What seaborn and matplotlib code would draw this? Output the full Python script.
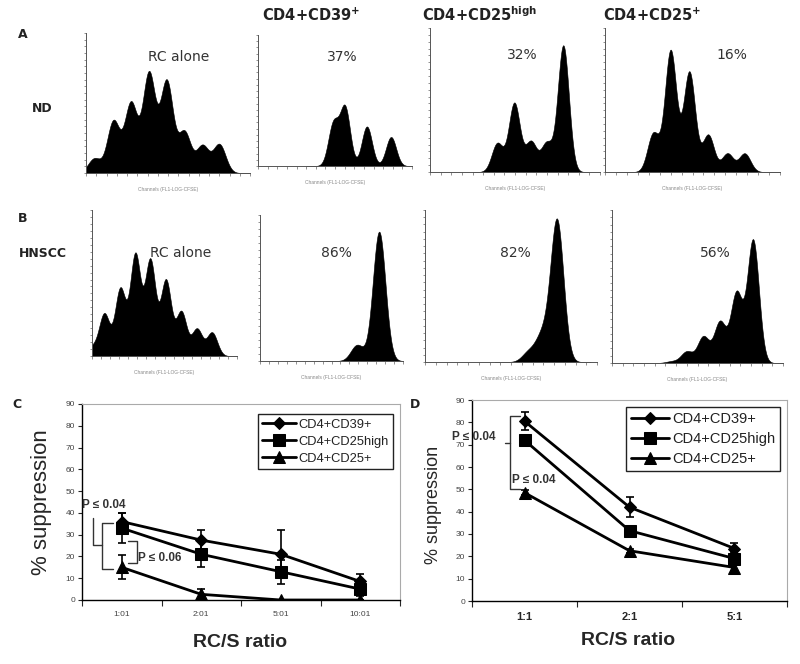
import numpy as np
import matplotlib
matplotlib.use("Agg")
import matplotlib.pyplot as plt
import seaborn as sns

# ---- CFSE histograms: peak channel (0-100 across the panel) and peak height (fraction of panel) ----
nd_rc_pos = [5.1, 16.7, 27.4, 38.4, 49.2, 60.0, 71.0, 81.3]
nd_rc_h = [0.107, 0.38, 0.51, 0.73, 0.67, 0.30, 0.20, 0.21]
nd_cd39_pos = [48.9, 56.5, 70.7, 86.4]
nd_cd39_h = [0.34, 0.47, 0.32, 0.235]
nd_cd25high_pos = [39.6, 49.6, 59.4, 68.6, 78.4]
nd_cd25high_h = [0.2, 0.48, 0.21, 0.2, 0.88]
nd_cd25_pos = [27.6, 37.5, 48.2, 59.0, 70.0, 79.8]
nd_cd25_h = [0.27, 0.85, 0.70, 0.26, 0.13, 0.13]

hn_rc_pos = [0.0, 8.5, 19.5, 29.9, 40.2, 51.0, 61.6, 72.4, 82.8]
hn_rc_h = [0.06, 0.295, 0.47, 0.71, 0.67, 0.53, 0.31, 0.19, 0.165]
hn_cd39_pos = [67.9, 83.3]
hn_cd39_h = [0.11, 0.886]
hn_cd25high_pos = [60.2, 68.0, 76.7]
hn_cd25high_h = [0.066, 0.17, 0.945]
hn_cd25_pos = [35.0, 43.7, 53.4, 63.1, 72.8, 82.5]
hn_cd25_h = [0.012, 0.076, 0.174, 0.27, 0.46, 0.81]

col_titles = [r"CD4+CD39$^{\mathbf{+}}$", r"CD4+CD25$^{\mathbf{high}}$", r"CD4+CD25$^{\mathbf{+}}$"]
nd_labels = ["RC alone", "37%", "32%", "16%"]
hn_labels = ["RC alone", "86%", "82%", "56%"]

# ---- suppression curves ----
group_names = ["CD4+CD39+", "CD4+CD25high", "CD4+CD25+"]

ratios_c = ["1:01", "2:01", "5:01", "10:01"]
c_cd39 = [36, 27.5, 21, 8.5]
c_cd39_err = [4, 4.7, 11, 3.5]
c_cd25high = [33, 21, 13, 5]
c_cd25high_err = [7, 6, 5.5, 3]
c_cd25 = [15, 2.6, 0, 0]
c_cd25_err = [5.5, 2.5, 0, 0]

ratios_d = ["1:1", "2:1", "5:1"]
d_cd39 = [80.5, 42, 23.5]
d_cd39_err = [4, 4.5, 2.5]
d_cd25high = [72, 31.5, 19]
d_cd25high_err = [1, 2, 3]
d_cd25 = [48.5, 22.5, 15]
d_cd25_err = [1, 1, 1.5]

W, H = 800, 664

sns.set_style("ticks")
plt.rcParams["font.family"] = ["Liberation Sans", "DejaVu Sans"]


def px_rect(x0, x1, y0, y1):
    return [x0 / W, 1 - y1 / H, (x1 - x0) / W, (y1 - y0) / H]


def fig_text(fig, px, py, s, **kw):
    fig.text(px / W, 1 - py / H, s, **kw)


def flow_hist(ax, pos, heights, sigma):
    pos = np.asarray(pos, float)
    h = np.asarray(heights, float)
    # kernel width in channel units -> seaborn/scipy bandwidth factor
    factor = float(sigma / np.sqrt(np.cov(pos, aweights=h)))
    sns.kdeplot(x=pos, weights=h, bw_method=factor, fill=True, color="black",
                alpha=1, linewidth=0.4, clip=(0, 100), cut=5, gridsize=600, ax=ax)
    peak = max(p.vertices[:, 1].max() for p in ax.collections[-1].get_paths())
    top = peak / h.max()
    ax.set_xlim(0, 100)
    ax.set_ylim(0, top)
    ax.set_yticks(np.linspace(0, top, 22))
    ax.set_xticks(np.linspace(0, 100, 17))
    ax.set_yticklabels([])
    ax.set_xticklabels([])
    ax.set_ylabel("")
    ax.set_xlabel("Channels (FL1-LOG-CFSE)", fontsize=3.5, color="#888", labelpad=5)
    sns.despine(ax=ax)
    for s in ["left", "bottom"]:
        ax.spines[s].set_color("#555")
        ax.spines[s].set_linewidth(0.7)
    ax.tick_params(length=1.8, width=0.5, color="#666")


def suppression_chart(ax, ratios, series, legend_fs, legend_anchor):
    for name, vals, err, marker, ms in series:
        sns.lineplot(x=ratios, y=vals, ax=ax, color="black", lw=2, marker=marker,
                     markersize=ms, markeredgecolor="black", label=name, sort=False)
        ax.errorbar(ratios, vals, yerr=err, fmt="none", ecolor="black",
                    elinewidth=1.2, capsize=3, capthick=1.2)
    n = len(ratios)
    ax.set_xlim(-0.5, n - 0.5)
    ax.set_ylim(0, 90)
    ax.set_yticks(range(0, 91, 10))
    ax.set_xticks(np.arange(-0.5, n), minor=True)
    ax.tick_params(axis="x", which="major", length=0, pad=8)
    ax.tick_params(axis="x", which="minor", length=4, width=0.8, direction="out")
    ax.tick_params(axis="y", length=3, width=0.8, pad=2, labelsize=6, labelcolor="#444")
    for s in ["left", "bottom"]:
        ax.spines[s].set_color("black")
        ax.spines[s].set_linewidth(1)
    for s in ["top", "right"]:
        ax.spines[s].set_color("#aaa")
        ax.spines[s].set_linewidth(0.8)
    leg = ax.legend(loc="upper right", bbox_to_anchor=legend_anchor, borderaxespad=0,
                    fancybox=False, edgecolor="#222", framealpha=1, fontsize=legend_fs,
                    handlelength=2.6, handletextpad=0.2, borderpad=0.35, labelspacing=0.4)
    leg.get_frame().set_linewidth(1)
    for t in leg.get_texts():
        t.set_color("#222")
    ax.set_xlabel("RC/S ratio", fontsize=14, fontweight="bold")


fig = plt.figure(figsize=(W / 100, H / 100), dpi=100)

# ---- panels A and B ----
nd_boxes = [(86, 250, 33, 173), (258, 412, 35, 166), (430, 600, 28, 172), (605, 780, 28, 172)]
hn_boxes = [(92, 237, 210, 356), (260, 403, 215, 361), (425, 597, 210, 362), (612, 783, 210, 363)]
nd_data = [(nd_rc_pos, nd_rc_h, 3.8), (nd_cd39_pos, nd_cd39_h, 3.3),
           (nd_cd25high_pos, nd_cd25high_h, 3.3), (nd_cd25_pos, nd_cd25_h, 3.3)]
hn_data = [(hn_rc_pos, hn_rc_h, 3.6), (hn_cd39_pos, hn_cd39_h, 4.4),
           (hn_cd25high_pos, hn_cd25high_h, 3.8), (hn_cd25_pos, hn_cd25_h, 3.4)]

for box, (pos, h, sig) in zip(nd_boxes, nd_data):
    flow_hist(fig.add_axes(px_rect(*box)), pos, h, sig)
for box, (pos, h, sig) in zip(hn_boxes, hn_data):
    flow_hist(fig.add_axes(px_rect(*box)), pos, h, sig)

top_kw = dict(family="DejaVu Sans", color="#222", ha="center", va="center")
for x, t in zip([311, 480, 652], col_titles):
    fig_text(fig, x, 15, t, fontsize=10.5, fontweight="bold", **top_kw)
for (x, y), t in zip([(179, 57), (342, 57), (522, 55), (732, 55)], nd_labels):
    fig_text(fig, x, y, t, fontsize=10, color="#333", ha="center", va="center", family="DejaVu Sans")
for (x, y), t in zip([(181, 253), (336, 253), (515, 253), (715, 253)], hn_labels):
    fig_text(fig, x, y, t, fontsize=10, color="#333", ha="center", va="center", family="DejaVu Sans")

lab_kw = dict(family="DejaVu Sans", fontweight="bold", color="#222", va="center", ha="left")
fig_text(fig, 18, 34, "A", fontsize=9, **lab_kw)
fig_text(fig, 32, 108, "ND", fontsize=9, **lab_kw)
fig_text(fig, 18, 219, "B", fontsize=9, **lab_kw)
fig_text(fig, 19, 253, "HNSCC", fontsize=9, **lab_kw)
fig_text(fig, 12, 404, "C", fontsize=9, **lab_kw)
fig_text(fig, 410, 405, "D", fontsize=9, **lab_kw)

# ---- panel C ----
ax_c = fig.add_axes(px_rect(82, 400, 404, 600))
suppression_chart(ax_c, ratios_c,
                  [(group_names[0], c_cd39, c_cd39_err, "D", 6),
                   (group_names[1], c_cd25high, c_cd25high_err, "s", 8),
                   (group_names[2], c_cd25, c_cd25_err, "^", 8)],
                  9.3, (0.978, 0.949))
ax_c.tick_params(axis="x", labelsize=6, labelcolor="#444")
ax_c.set_ylabel("% suppression", fontsize=16)
ax_c.yaxis.set_label_coords(-0.094, 0.5)
ax_c.xaxis.set_label_coords(0.497, -0.175)
br = dict(color="#333", lw=1, clip_on=False)
ax_c.plot([-0.11, -0.252, -0.252, -0.11], [35.4, 35.4, 14.2, 14.2], **br)
ax_c.plot([-0.252, -0.365, -0.365], [25.3, 25.3, 37.6], **br)
ax_c.plot([0.079, 0.188, 0.188, 0.079], [27.2, 27.2, 17.1, 17.1], **br)
ax_c.text(-0.504, 43.6, "P ≤ 0.04", fontsize=8.5, fontweight="bold", color="#333", va="center")
ax_c.text(0.204, 19.3, "P ≤ 0.06", fontsize=8.5, fontweight="bold", color="#333", va="center")

# ---- panel D ----
ax_d = fig.add_axes(px_rect(472, 787, 400, 601))
suppression_chart(ax_d, ratios_d,
                  [(group_names[0], d_cd39, d_cd39_err, "D", 6),
                   (group_names[1], d_cd25high, d_cd25high_err, "s", 8),
                   (group_names[2], d_cd25, d_cd25_err, "^", 8)],
                  10.5, (0.978, 0.965))
ax_d.tick_params(axis="x", labelsize=8)
for t in ax_d.get_xticklabels():
    t.set_fontweight("bold")
ax_d.set_ylabel("% suppression", fontsize=13)
ax_d.yaxis.set_label_coords(-0.095, 0.48)
ax_d.xaxis.set_label_coords(0.494, -0.155)
ax_d.plot([-0.043, -0.138, -0.138, -0.043], [82.8, 82.8, 50, 50], **br)
ax_d.plot([-0.186, -0.138], [70.6, 70.6], **br)
ax_d.text(-0.693, 73.4, "P ≤ 0.04", fontsize=8.5, fontweight="bold", color="#333", va="center")
ax_d.text(-0.122, 54.2, "P ≤ 0.04", fontsize=8.5, fontweight="bold", color="#333", va="center")

fig.savefig("out.png", dpi=100)
